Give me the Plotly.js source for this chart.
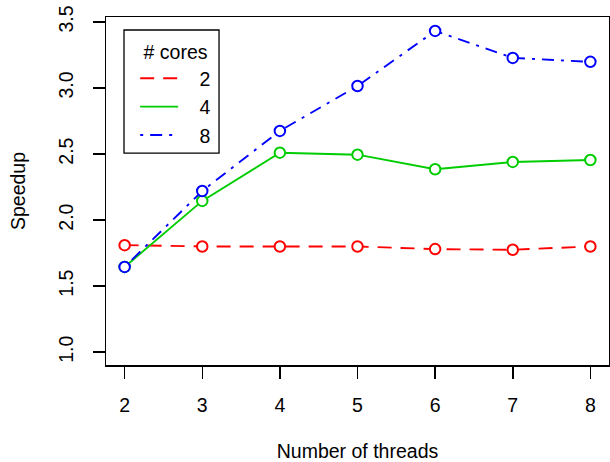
<!DOCTYPE html>
<html>
<head>
<meta charset="utf-8">
<script src="https://cdn.plot.ly/plotly-3.0.1.min.js"></script>
<style>html,body{margin:0;padding:0;background:#fff;}#chart{width:610px;height:462px;}</style>
</head>
<body>
<div id="chart"></div>
<script>
var threads = [2, 3, 4, 5, 6, 7, 8];
var cores2 = [1.81, 1.80, 1.80, 1.80, 1.78, 1.775, 1.80];
var cores4 = [1.645, 2.145, 2.51, 2.495, 2.385, 2.44, 2.455];
var cores8 = [1.645, 2.22, 2.675, 3.015, 3.432, 3.228, 3.198];
var seriesNames = ['2', '4', '8'];
var seriesColors = ['#FF0000', '#00CD00', '#0000FF'];
var seriesDash = ['14px,9px', 'solid', '3px,7px,12px,7px'];
var seriesValues = [cores2, cores4, cores8];
var xTicks = [2, 3, 4, 5, 6, 7, 8];
var yTicks = [1.0, 1.5, 2.0, 2.5, 3.0, 3.5];
var yTickText = ['1.0', '1.5', '2.0', '2.5', '3.0', '3.5'];

var font = 'Liberation Sans, Arial, Helvetica, sans-serif';
var fs = 19.5;
var traces = [];
for (var i = 0; i < seriesValues.length; i++) {
  traces.push({
    x: threads, y: seriesValues[i], type: 'scatter', mode: 'lines+markers',
    showlegend: false,
    line: {color: seriesColors[i], width: 1.9, dash: seriesDash[i]},
    marker: {symbol: 'circle', size: 10.5, color: '#ffffff', line: {color: seriesColors[i], width: 2}}
  });
}
for (var j = 0; j < seriesValues.length; j++) {
  traces.push({
    x: [null], y: [null], type: 'scatter', mode: 'lines',
    name: '\u00a0\u00a0\u00a0' + seriesNames[j],
    line: {color: seriesColors[j], width: 1.9, dash: seriesDash[j]}
  });
}

var layout = {
  width: 610, height: 462,
  margin: {l: 106, r: 1, t: 17, b: 97},
  paper_bgcolor: '#fff', plot_bgcolor: '#fff',
  font: {family: font, size: fs, color: '#000'},
  showlegend: true,
  shapes: [{
    type: 'rect', xref: 'paper', yref: 'paper',
    x0: 0.0358, x1: 0.2247, y0: 0.609, y1: 0.9626,
    line: {color: '#000', width: 1.3}, fillcolor: 'rgba(255,255,255,1)', layer: 'below'
  }],
  legend: {
    x: 0.058, y: 0.952, xanchor: 'left', yanchor: 'top',
    borderwidth: 0, bgcolor: 'rgba(0,0,0,0)',
    itemwidth: 38,
    font: {size: fs, family: font},
    title: {text: '# cores', side: 'top center', font: {size: fs, family: font}}
  },
  xaxis: {
    range: [1.76, 8.24], tickvals: xTicks, ticktext: xTicks.map(String),
    showgrid: false, zeroline: false, showline: true, mirror: true,
    linecolor: '#000', linewidth: 1.5,
    ticks: 'outside', ticklen: 12, tickwidth: 1.5, tickcolor: '#000',
    ticklabelstandoff: 10,
    tickfont: {size: fs, family: font},
    title: {text: 'Number of threads', font: {size: fs, family: font}, standoff: 31}
  },
  yaxis: {
    range: [0.9024, 3.5376], tickvals: yTicks, ticktext: yTickText,
    tickangle: -90,
    showgrid: false, zeroline: false, showline: true, mirror: true,
    linecolor: '#000', linewidth: 1.5,
    ticks: 'outside', ticklen: 12, tickwidth: 1.5, tickcolor: '#000',
    ticklabelstandoff: 12,
    tickfont: {size: fs, family: font},
    title: {text: 'Speedup', font: {size: fs, family: font}, standoff: 24}
  }
};
Plotly.newPlot('chart', traces, layout, {displayModeBar: false, staticPlot: true});
</script>
</body>
</html>
